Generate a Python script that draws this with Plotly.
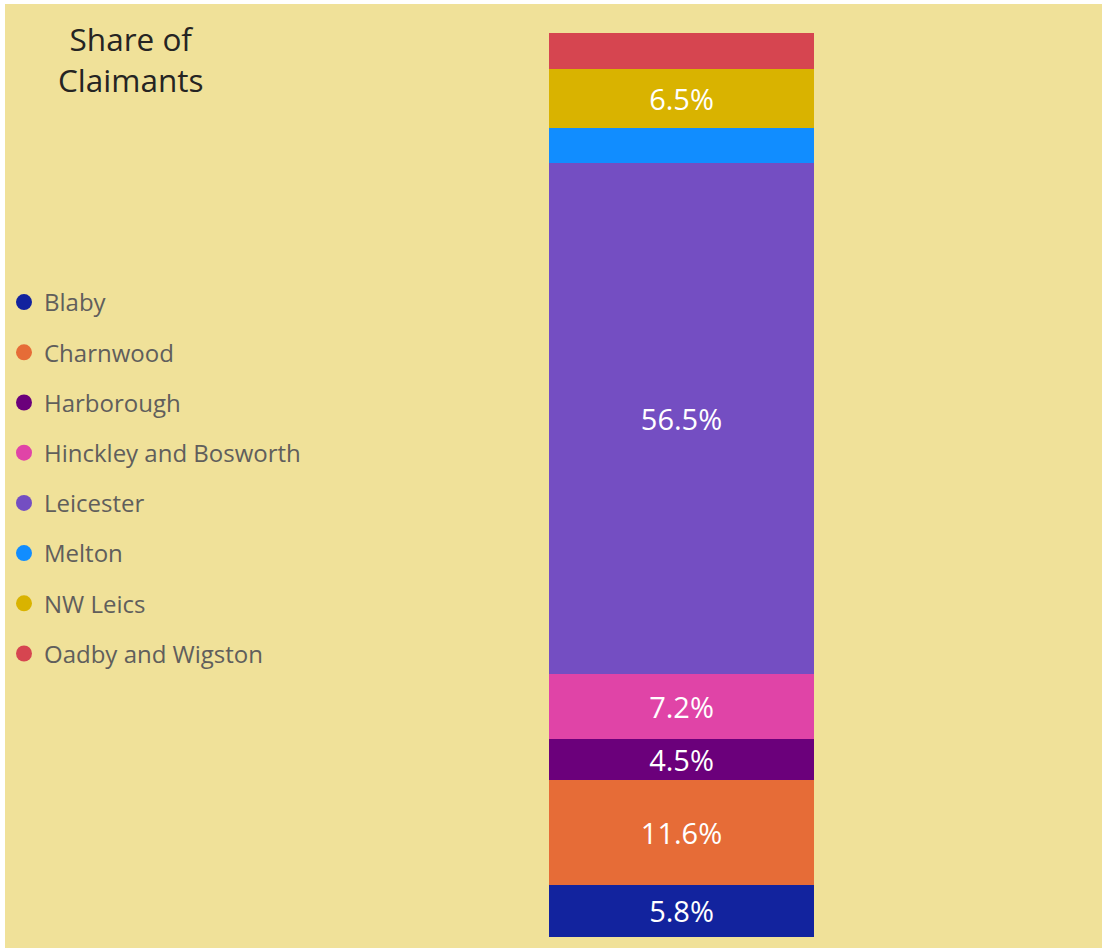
import plotly.graph_objects as go

# ---- data ----
districts = ["Blaby", "Charnwood", "Harborough", "Hinckley and Bosworth",
             "Leicester", "Melton", "NW Leics", "Oadby and Wigston"]
share_pct = [5.8, 11.6, 4.5, 7.2, 56.5, 3.9, 6.5, 4.0]
show_label = [True, True, True, True, True, False, True, False]
category = ["Share of Claimants"]

colors = ["#12239E", "#E66C37", "#6B007B", "#E044A7",
          "#744EC2", "#118DFF", "#D9B300", "#D64550"]

W, H = 1102, 948
BG = "#F0E199"
FONT = "Open Sans"

# plot area in pixels
L, R, T, B = 549, W - 814, 33, H - 937

fig = go.Figure()
for i, (name, v) in enumerate(zip(districts, share_pct)):
    fig.add_trace(go.Bar(
        x=category, y=[v], name=name,
        marker=dict(color=colors[i], line=dict(width=0)),
        text=[f"{v:.1f}%" if show_label[i] else ""],
        textposition="inside", insidetextanchor="middle", textangle=0,
        constraintext="none",
        textfont=dict(color="white", size=29, family=FONT),
        width=1, showlegend=False, hoverinfo="name+y",
    ))
    # legend entry with a circle marker
    fig.add_trace(go.Scatter(
        x=[None], y=[None], mode="markers", name=name,
        legendgroup=name,
        marker=dict(color=colors[i], size=16, symbol="circle"),
        showlegend=True,
    ))

pw = W - L - R
ph = H - T - B
def px2paper_x(px):
    return (px - L) / pw
def px2paper_y(py):
    return (H - B - py) / ph

fig.add_shape(type="rect", xref="paper", yref="paper",
              x0=px2paper_x(5), x1=px2paper_x(W + 5),
              y0=px2paper_y(H + 5), y1=px2paper_y(4),
              fillcolor=BG, line=dict(width=0), layer="below")

fig.add_annotation(text="Share of<br>Claimants", xref="paper", yref="paper",
                   x=px2paper_x(130), y=px2paper_y(15), xanchor="center",
                   yanchor="top", showarrow=False, align="center",
                   font=dict(size=31.5, color="#252423", family=FONT))

fig.update_layout(
    width=W, height=H,
    margin=dict(l=L, r=R, t=T, b=B, pad=0),
    paper_bgcolor="white", plot_bgcolor="rgba(0,0,0,0)",
    barmode="stack",
    xaxis=dict(visible=False, range=[-0.5, 0.5]),
    yaxis=dict(visible=False, range=[0, 100]),
    showlegend=True,
    legend=dict(
        xref="container", yref="container",
        x=4 / W, y=1 - 280 / H, xanchor="left", yanchor="top",
        traceorder="grouped", tracegroupgap=16,
        itemwidth=30, itemsizing="trace",
        font=dict(size=24, color="#605E5C", family=FONT),
        bgcolor="rgba(0,0,0,0)",
    ),
)

fig.write_html("out.html", config={"displayModeBar": False},
               post_script="document.body.style.margin='0';")
